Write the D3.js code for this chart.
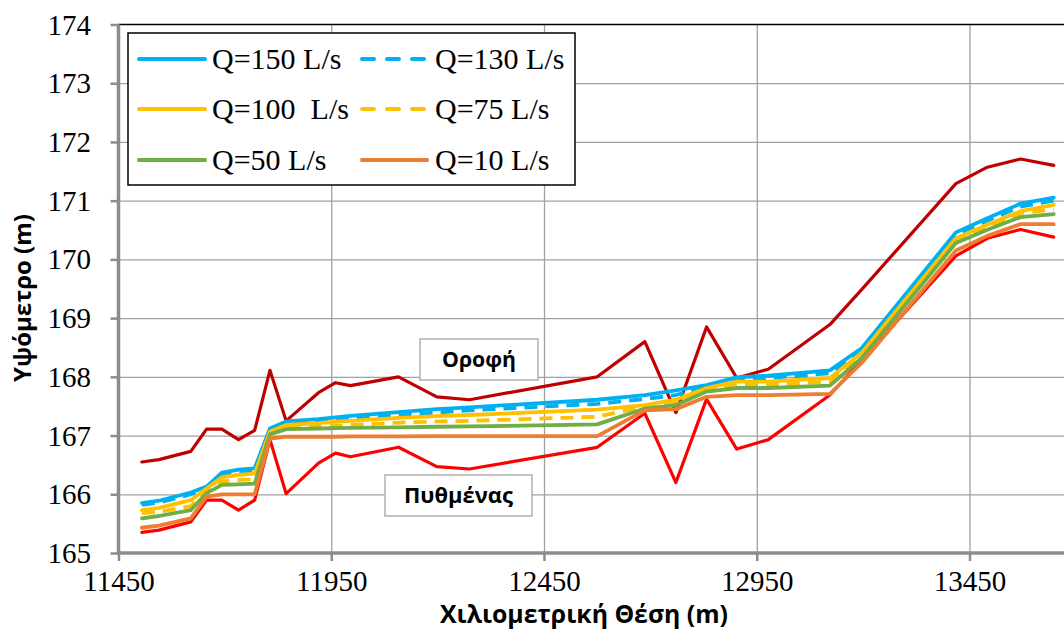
<!DOCTYPE html>
<html>
<head>
<meta charset="utf-8">
<script src="https://cdn.jsdelivr.net/npm/d3@7"></script>
<style>
  html, body { margin: 0; padding: 0; background: #fff; }
  svg { display: block; }
</style>
</head>
<body>
<svg id="chart" width="1064" height="630"></svg>
<script>
// Chainage of each cross-section (m)
const stations = [11505, 11545, 11620, 11657, 11693, 11732, 11770, 11806, 11844, 11920,
  11960, 11995, 12108, 12198, 12275, 12575, 12687, 12760, 12832, 12903,
  12977, 13122, 13197, 13418, 13492, 13570, 13648];

// Culvert roof and bed levels (m)
const roofLevel = [166.55, 166.59, 166.73, 167.11, 167.11, 166.93, 167.09, 168.11, 167.25, 167.73,
  167.90, 167.85, 168.00, 167.66, 167.61, 168.00, 168.60, 167.39, 168.85, 167.98,
  168.13, 168.89, 169.49, 171.29, 171.57, 171.71, 171.60];
const bedLevel = [165.35, 165.39, 165.53, 165.90, 165.90, 165.73, 165.90, 166.93, 166.01, 166.53,
  166.70, 166.64, 166.80, 166.47, 166.43, 166.80, 167.38, 166.20, 167.62, 166.77,
  166.93, 167.69, 168.29, 170.06, 170.36, 170.51, 170.38];

// Water surface levels for each discharge (m)
const q150 = [165.85, 165.89, 166.03, 166.13, 166.37, 166.42, 166.44, 167.12, 167.24, 167.28,
  167.31, 167.335, 167.40, 167.45, 167.48, 167.61, 167.69, 167.77, 167.86, 167.99,
  168.02, 168.11, 168.49, 170.46, 170.70, 170.95, 171.05];
const q130 = [165.82, 165.86, 166.00, 166.10, 166.33, 166.38, 166.40, 167.09, 167.20, 167.23,
  167.255, 167.28, 167.34, 167.39, 167.43, 167.54, 167.62, 167.69, 167.83, 167.96,
  167.98, 168.06, 168.43, 170.42, 170.66, 170.90, 171.00];
const q100 = [165.73, 165.77, 165.90, 166.10, 166.29, 166.33, 166.35, 167.07, 167.18, 167.21,
  167.235, 167.25, 167.30, 167.33, 167.35, 167.44, 167.52, 167.61, 167.81, 167.92,
  167.92, 167.98, 168.41, 170.36, 170.59, 170.82, 170.93];
const q75 = [165.68, 165.70, 165.80, 166.05, 166.22, 166.24, 166.26, 167.04, 167.13, 167.15,
  167.165, 167.18, 167.22, 167.24, 167.25, 167.32, 167.50, 167.56, 167.78, 167.88,
  167.86, 167.92, 168.37, 170.33, 170.55, 170.79, 170.85];
const q50 = [165.59, 165.63, 165.73, 166.02, 166.16, 166.17, 166.18, 167.02, 167.11, 167.12,
  167.125, 167.13, 167.14, 167.15, 167.155, 167.19, 167.46, 167.52, 167.75, 167.81,
  167.81, 167.85, 168.32, 170.28, 170.505, 170.72, 170.77];
const q10 = [165.43, 165.465, 165.59, 165.96, 166.00, 166.00, 166.00, 166.95, 166.98, 166.98,
  166.98, 166.985, 166.985, 166.99, 166.99, 166.99, 167.43, 167.45, 167.66, 167.69,
  167.69, 167.71, 168.24, 170.15, 170.40, 170.60, 170.60];

const seriesNames = ["Q=150 L/s", "Q=130 L/s", "Q=100  L/s", "Q=75 L/s", "Q=50 L/s", "Q=10 L/s"];
const yTicks = [165, 166, 167, 168, 169, 170, 171, 172, 173, 174];
const xTicks = [11450, 11950, 12450, 12950, 13450];
const xTitle = "Χιλιομετρική Θέση (m)";
const yTitle = "Υψόμετρο (m)";
const roofLabel = "Οροφή";
const bedLabel = "Πυθμένας";

const svg = d3.select("#chart");
const W = 1064, H = 630;
const plotLeft = 118.5, plotTop = 24.5, plotBottom = 553;

const x = d3.scaleLinear().domain([11450, 13700]).range([plotLeft, plotLeft + 2250 * 0.4255]);
const y = d3.scaleLinear().domain([165, 174]).range([plotBottom, plotTop]);

const serif = "'Liberation Serif', 'Times New Roman', serif";
const sans = "'Open Sans', 'Noto Sans', sans-serif";
const axisGrey = "#8c8c8c";
const gridGrey = "#a0a0a0";

// Gridlines
svg.append("g")
  .attr("transform", `translate(${plotLeft},0)`)
  .call(d3.axisLeft(y).tickValues(yTicks.filter(v => v > 165 && v < 174))
    .tickSize(-(W - plotLeft)).tickFormat(""))
  .call(g => g.select(".domain").remove())
  .call(g => g.selectAll("line").attr("stroke", gridGrey).attr("stroke-width", 1.3));

svg.append("g")
  .attr("transform", `translate(0,${plotBottom})`)
  .call(d3.axisBottom(x).tickValues(xTicks.filter(v => v > 11450))
    .tickSize(-(plotBottom - plotTop)).tickFormat(""))
  .call(g => g.select(".domain").remove())
  .call(g => g.selectAll("line").attr("stroke", gridGrey).attr("stroke-width", 1.3));

// Plot-area top border
svg.append("line")
  .attr("x1", plotLeft).attr("x2", W).attr("y1", plotTop).attr("y2", plotTop)
  .attr("stroke", "#000").attr("stroke-width", 1.5);

// Y axis
const yAxis = svg.append("g")
  .attr("transform", `translate(${plotLeft},0)`)
  .call(d3.axisLeft(y).tickValues(yTicks).tickSizeInner(8).tickSizeOuter(0).tickPadding(19.5)
    .tickFormat(d3.format("d")));
yAxis.select(".domain").attr("stroke", axisGrey).attr("stroke-width", 3.5)
  .attr("d", `M0,${plotTop}V${plotBottom + 1.5}`);
yAxis.selectAll(".tick line").attr("stroke", axisGrey).attr("stroke-width", 2.5);
yAxis.selectAll(".tick text")
  .attr("font-family", serif).attr("font-size", 29).attr("fill", "#000").attr("dy", "0.33em");

// X axis
const xAxis = svg.append("g")
  .attr("transform", `translate(0,${plotBottom})`)
  .call(d3.axisBottom(x).tickValues(xTicks).tickSizeInner(8).tickSizeOuter(0)
    .tickFormat(d3.format("d")));
xAxis.select(".domain").attr("stroke", axisGrey).attr("stroke-width", 3.5)
  .attr("d", `M${plotLeft - 1.5},0H${W}`);
xAxis.selectAll(".tick line").attr("stroke", axisGrey).attr("stroke-width", 2.5);
xAxis.selectAll(".tick text")
  .attr("font-family", serif).attr("font-size", 29).attr("fill", "#000")
  .attr("y", 38).attr("dy", 0);

// Series lines
const line = d3.line().x((d, i) => x(stations[i])).y(d => y(d));

const series = [
  { values: roofLevel, color: "#C00000", width: 3.2, dash: null },
  { values: bedLevel, color: "#FF0000", width: 3.2, dash: null },
  { values: q150, color: "#00B0F0", width: 3.8, dash: null },
  { values: q130, color: "#00B0F0", width: 3.8, dash: "13,8" },
  { values: q100, color: "#FFC000", width: 3.8, dash: null },
  { values: q75, color: "#FFC000", width: 3.8, dash: "13,8" },
  { values: q50, color: "#70AD47", width: 3.8, dash: null },
  { values: q10, color: "#ED7D31", width: 3.8, dash: null }
];

svg.append("g").selectAll("path").data(series).join("path")
  .attr("d", s => line(s.values))
  .attr("fill", "none")
  .attr("stroke", s => s.color)
  .attr("stroke-width", s => s.width)
  .attr("stroke-linejoin", "round")
  .attr("stroke-linecap", s => s.dash ? "butt" : "round")
  .attr("stroke-dasharray", s => s.dash);

// Legend
const legend = svg.append("g");
legend.append("rect")
  .attr("x", 128).attr("y", 33).attr("width", 447).attr("height", 152)
  .attr("fill", "#fff").attr("stroke", "#000").attr("stroke-width", 1.5);

const cols = [{ l1: 139, l2: 205, tx: 212 }, { l1: 362, l2: 427, tx: 435 }];
const rows = [59, 109, 160];
const legendSeries = series.slice(2);
legendSeries.forEach((s, i) => {
  const c = cols[i % 2], r = rows[Math.floor(i / 2)];
  legend.append("line")
    .attr("x1", c.l1).attr("x2", c.l2).attr("y1", r).attr("y2", r)
    .attr("stroke", s.color).attr("stroke-width", 4)
    .attr("stroke-linecap", "round")
    .attr("stroke-dasharray", s.dash ? "12,13" : null);
  legend.append("text")
    .attr("x", c.tx).attr("y", r + 10)
    .attr("xml:space", "preserve").style("white-space", "pre")
    .attr("font-family", serif).attr("font-size", 30).attr("fill", "#000")
    .text(seriesNames[i]);
});

// Sizes a text element so that it spans the given length
function fitText(sel, target) {
  const len = sel.node().getComputedTextLength();
  const fs = parseFloat(sel.attr("font-size"));
  sel.attr("font-size", (fs * target / len).toFixed(2));
}

// Roof / bed labels
function labelBox(text, bx, by, bw, bh, textW) {
  const g = svg.append("g");
  g.append("rect").attr("x", bx).attr("y", by).attr("width", bw).attr("height", bh)
    .attr("fill", "#fff").attr("stroke", "#b0b0b0").attr("stroke-width", 1.5);
  const t = g.append("text")
    .attr("x", bx + bw / 2).attr("y", by + bh / 2).attr("dy", "0.36em")
    .attr("text-anchor", "middle")
    .attr("font-family", sans).attr("font-weight", "bold").attr("font-size", 20)
    .attr("fill", "#000").text(text);
  fitText(t, textW);
}
labelBox(roofLabel, 420, 339, 118, 41, 74);
labelBox(bedLabel, 385, 475, 147, 41, 109);

// Axis titles
const xt = svg.append("text")
  .attr("x", 584).attr("y", 623).attr("text-anchor", "middle")
  .attr("font-family", sans).attr("font-weight", "bold").attr("font-size", 24)
  .attr("fill", "#000").text(xTitle);
fitText(xt, 288);

const yt = svg.append("text")
  .attr("transform", "translate(31,298) rotate(-90)").attr("text-anchor", "middle")
  .attr("font-family", sans).attr("font-weight", "bold").attr("font-size", 24)
  .attr("fill", "#000").text(yTitle);
fitText(yt, 168);
</script>
</body>
</html>
